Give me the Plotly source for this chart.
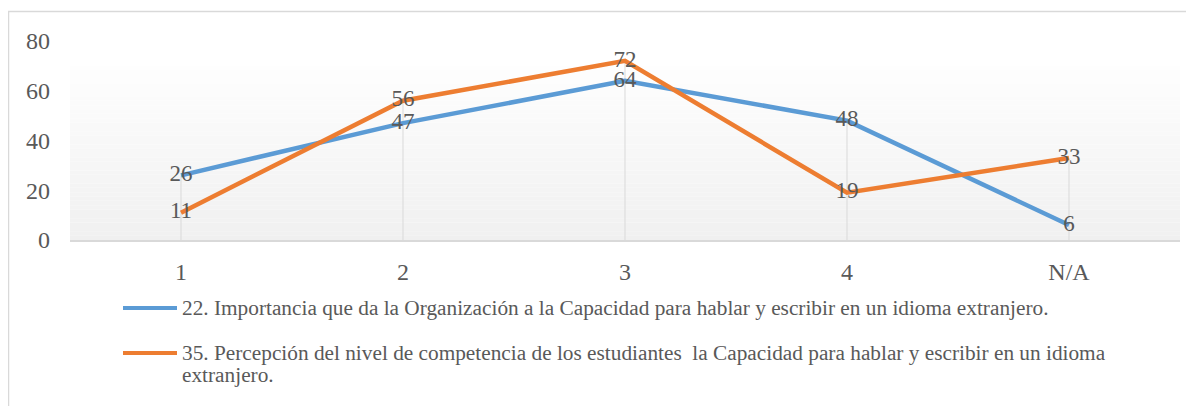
import plotly.graph_objects as go

categories = ["1", "2", "3", "4", "N/A"]
series_22 = [26, 47, 64, 48, 6]
series_35 = [11, 56, 72, 19, 33]
name_22 = "22. Importancia que da la Organización a la Capacidad para hablar y escribir en un idioma extranjero."
name_35_lines = ["35. Percepción del nivel de competencia de los estudiantes \u00a0la Capacidad para hablar y escribir en un idioma",
                 "extranjero."]
y_ticks = [0, 20, 40, 60, 80]

BLUE = "#5B9BD5"
ORANGE = "#ED7D31"
TXT = "#595959"
FONT = "Liberation Serif"

OFF = 8  # page body margin
W, H = 1194 - OFF, 406 - OFF
L, R, T, B = 70 - OFF, 1180 - OFF, 41 - OFF, 240 - OFF  # plot area pixels (figure coords)


def px(x):  # page pixel -> paper
    return (x - OFF - L) / (R - L)


def py(y):
    return (B - (y - OFF)) / (B - T)


fig = go.Figure()

# drop lines
dx, dy = [], []
for c, a, b in zip(categories, series_22, series_35):
    dx += [c, c, None]
    dy += [0, max(a, b), None]
fig.add_trace(go.Scatter(x=dx, y=dy, mode="lines", line=dict(color="#d9d9d9", width=1),
                         hoverinfo="skip", showlegend=False))

fig.add_trace(go.Scatter(x=categories, y=series_22, mode="lines+text", text=[str(v) for v in series_22],
                         textposition="middle center", textfont=dict(size=23, color=TXT, family=FONT),
                         line=dict(color=BLUE, width=4.5), name=name_22, showlegend=False))
fig.add_trace(go.Scatter(x=categories, y=series_35, mode="lines+text", text=[str(v) for v in series_35],
                         textposition="middle center", textfont=dict(size=23, color=TXT, family=FONT),
                         line=dict(color=ORANGE, width=4.5), name=" ".join(name_35_lines), showlegend=False))

shapes = []
# gradient plot area
top, bot = 66, 240
n = 40
for i in range(n):
    y0 = top + (bot - top) * i / n
    y1 = top + (bot - top) * (i + 1) / n
    t = (i + 0.5) / n
    v = int(round(254 - t * (254 - 240)))
    shapes.append(dict(type="rect", xref="paper", yref="paper", x0=0, x1=1, y0=py(y1), y1=py(y0),
                       fillcolor=f"rgb({v},{v},{v})", line=dict(width=0), layer="below"))
# outer border
shapes.append(dict(type="rect", xref="paper", yref="paper", x0=px(8.5), x1=px(1220), y0=py(430), y1=py(11.5),
                   line=dict(color="#d9d9d9", width=1.5), fillcolor="rgba(0,0,0,0)", layer="below"))
# legend lines
for yy, col in [(308, BLUE), (353, ORANGE)]:
    shapes.append(dict(type="line", xref="paper", yref="paper", x0=px(123), x1=px(177), y0=py(yy), y1=py(yy),
                       line=dict(color=col, width=4)))

leg_font = dict(size=21.3, color=TXT, family=FONT)
annotations = [
    dict(xref="paper", yref="paper", x=px(180), y=py(308), xanchor="left", yanchor="middle", text=name_22,
         showarrow=False, align="left", font=leg_font),
    dict(xref="paper", yref="paper", x=px(180), y=py(353), xanchor="left", yanchor="middle", text=name_35_lines[0],
         showarrow=False, align="left", font=leg_font),
    dict(xref="paper", yref="paper", x=px(180), y=py(375), xanchor="left", yanchor="middle", text=name_35_lines[1],
         showarrow=False, align="left", font=leg_font),
]

fig.update_layout(
    width=W, height=H,
    margin=dict(l=L, r=W - R, t=T, b=H - B),
    paper_bgcolor="white", plot_bgcolor="rgba(0,0,0,0)",
    shapes=shapes, annotations=annotations,
    showlegend=False,
    font=dict(family=FONT, color=TXT),
    xaxis=dict(type="category", range=[-0.5, 4.5], showgrid=False, zeroline=False, showline=True,
               linecolor="#d9d9d9", linewidth=1.5, ticks="", tickfont=dict(size=24, color=TXT, family=FONT),
               ticklabelstandoff=9),
    yaxis=dict(range=[0, 80], tickvals=y_ticks, showgrid=False, zeroline=False, showline=False, ticks="",
               tickfont=dict(size=24, color=TXT, family=FONT), ticklabelstandoff=19),
)

fig.write_html("out.html")
